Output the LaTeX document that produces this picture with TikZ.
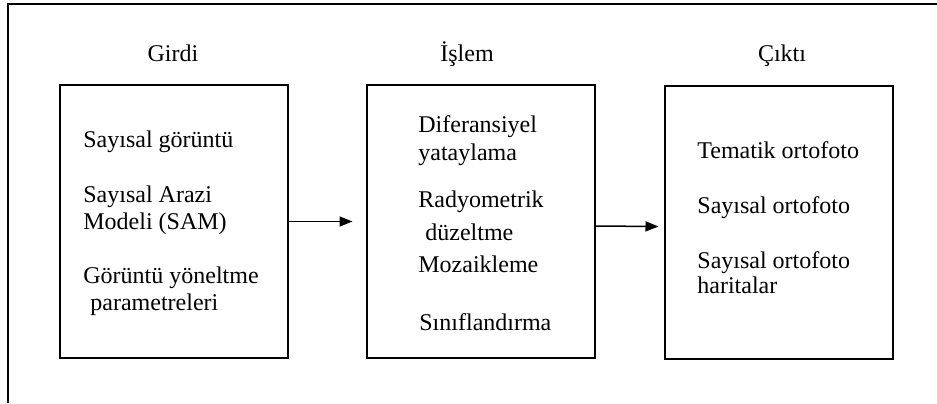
\documentclass[tikz,border=0pt]{standalone}
\usepackage{fontspec}
\setmainfont{Liberation Serif}
\usetikzlibrary{arrows.meta}

\tikzset{
  kutu/.style={draw,line width=1pt,minimum width=114pt,minimum height=136.5pt,inner sep=0pt},
  baslik/.style={anchor=base},
  satir/.style={anchor=base west,inner sep=0pt},
  ok/.style={-{Triangle[length=6.5pt,width=5pt]},line width=0.75pt}
}

\begin{document}
\begin{tikzpicture}[x=0.5pt,y=-0.5pt,font=\fontsize{12pt}{14pt}\selectfont]
        \useasboundingbox (0,0) rectangle (937,403);
        % frame
        \draw[line width=1pt] (937,4) -- (8,4) -- (8,403);
        % boxes
        \node[kutu] (girdikutu) at (174,221.5) {};
        \node[kutu] (islemkutu) at (480.5,221.5) {};
        \node[kutu] (ciktikutu) at (778.5,222) {};
        % headings
        \node[baslik] (girdi) at (173,61) {Girdi};
        \node[baslik] (islem) at (467,61) {İşlem};
        \node[baslik] (cikti) at (782,61) {Çıktı};
        % box texts
        \foreach \x/\y/\t [count=\i] in {83/147/Sayısal görüntü, 83/202/Sayısal Arazi, 83/229/Modeli (SAM), 83/283/Görüntü yöneltme, 90/310/parametreleri}
            \node[satir] (girdi\i) at (\x,\y) {\t};
        \foreach \x/\y/\t [count=\i] in {418/132/Diferansiyel, 418/160/yataylama, 418/207/Radyometrik, 425/240/düzeltme, 418/272/Mozaikleme, 419/330/Sınıflandırma}
            \node[satir] (islem\i) at (\x,\y) {\t};
        \foreach \x/\y/\t [count=\i] in {697/158/Tematik ortofoto, 697/213/Sayısal ortofoto, 697/268/Sayısal ortofoto, 697/293/haritalar}
            \node[satir] (cikti\i) at (\x,\y) {\t};
        % arrows
        \draw[ok] (girdikutu.east) -- ([xshift=-6.5pt]islemkutu.west);
        \draw[ok] ([yshift=-2.25pt]islemkutu.east) -- ([xshift=-2.5pt,yshift=-2.25pt]ciktikutu.west);
    \end{tikzpicture}
\end{document}
